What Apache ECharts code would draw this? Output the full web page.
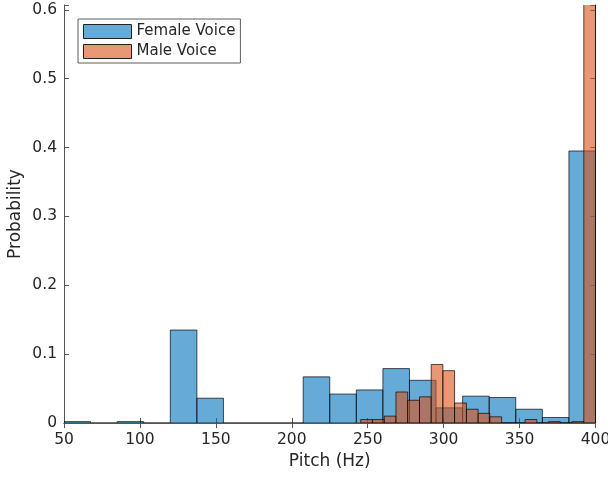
<!DOCTYPE html>
<html>
<head>
<meta charset="utf-8">
<script src="https://cdn.jsdelivr.net/npm/echarts@6/dist/echarts.min.js"></script>
<style>
  html, body { margin: 0; padding: 0; background: #fff; }
  #chart { width: 608px; height: 477px; }
</style>
</head>
<body>
<div id="chart"></div>
<script>
// bin edges (Hz) and probabilities
const femaleEdges = [50, 67.5, 85, 102.5, 120, 137.5, 155, 172.5, 190, 207.5, 225,
  242.5, 260, 277.5, 295, 312.5, 330, 347.5, 365, 382.5, 400];
const femaleProb = [0.002, 0, 0.002, 0, 0.135, 0.036, 0, 0, 0, 0.067,
  0.042, 0.048, 0.079, 0.062, 0.022, 0.039, 0.037, 0.020, 0.008, 0.395];

const maleEdges = [245.4, 253.1, 260.9, 268.6, 276.3, 284.1, 291.8, 299.5, 307.2, 315.0,
  322.7, 330.4, 338.2, 345.9, 353.6, 361.4, 369.1, 376.8, 384.5, 392.3, 400];
const maleProb = [0.005, 0.005, 0.010, 0.045, 0.033, 0.038, 0.085, 0.076, 0.029, 0.020,
  0.014, 0.009, 0, 0, 0.005, 0, 0.002, 0, 0.002, 0.62];

const seriesNames = ['Female Voice', 'Male Voice'];

const FONT = 'DejaVu Sans';
const TEXT = '#262626';
const AXIS = '#555';

const toBins = (edges, probs) => probs.map((p, i) => [edges[i], edges[i + 1], p]);

const chart = echarts.init(document.getElementById('chart'));

function renderBin(params, api) {
  const p0 = api.coord([api.value(0), 0]);
  const p1 = api.coord([api.value(1), api.value(2)]);
  return {
    type: 'rect',
    shape: { x: p0[0], y: p1[1], width: p1[0] - p0[0], height: p0[1] - p1[1] },
    style: api.style(),
  };
}

const tickLabel = (v) => {
  const r = Math.round(v * 10);
  return Math.abs(v * 10 - r) < 1e-6 ? String(r / 10) : '';
};

const option = {
  animation: false,
  textStyle: { fontFamily: FONT, color: TEXT },
  grid: { left: 64, right: 12.5, top: 5, bottom: 54, outerBoundsMode: 'none', containLabel: false },
  legend: {
    orient: 'vertical',
    left: 78,
    top: 19,
    padding: [5, 5, 4, 5],
    itemWidth: 48,
    itemHeight: 14,
    itemGap: 5,
    itemTextGap: 4,
    borderColor: '#333',
    borderWidth: 0.8,
    backgroundColor: '#fff',
    textStyle: { fontFamily: FONT, fontSize: 15, color: TEXT },
    data: [
      { name: seriesNames[0], icon: 'rect', itemStyle: { color: '#66aad7', borderColor: '#222', borderWidth: 1 } },
      { name: seriesNames[1], icon: 'rect', itemStyle: { color: '#e89875', borderColor: '#222', borderWidth: 1 } },
    ],
  },
  xAxis: [
    {
      type: 'value',
      min: 50,
      max: 400,
      interval: 50,
      name: 'Pitch (Hz)',
      nameLocation: 'middle',
      nameGap: 30,
      nameMoveOverlap: false,
      nameTextStyle: { fontFamily: FONT, fontSize: 17, color: TEXT },
      axisLine: { show: true, lineStyle: { color: AXIS, width: 1 } },
      axisTick: { inside: true, length: 5, lineStyle: { color: AXIS } },
      axisLabel: { fontFamily: FONT, fontSize: 15.5, color: TEXT, margin: 9 },
      splitLine: { show: false },
    },
    {
      type: 'value',
      position: 'top',
      min: 50,
      max: 400,
      interval: 50,
      axisLine: { show: true, lineStyle: { color: AXIS, width: 1 } },
      axisTick: { inside: true, length: 5, lineStyle: { color: AXIS } },
      axisLabel: { show: false },
      splitLine: { show: false },
    },
  ],
  yAxis: [
    {
      type: 'value',
      min: 0,
      max: 0.607,
      interval: 0.1,
      name: 'Probability',
      nameLocation: 'middle',
      nameGap: 40,
      nameMoveOverlap: false,
      nameTextStyle: { fontFamily: FONT, fontSize: 17, color: TEXT },
      axisLine: { show: true, lineStyle: { color: AXIS, width: 1 } },
      axisTick: { inside: true, length: 5, lineStyle: { color: AXIS } },
      axisLabel: { fontFamily: FONT, fontSize: 15.5, color: TEXT, margin: 7, formatter: tickLabel },
      splitLine: { show: false },
    },
    {
      type: 'value',
      position: 'right',
      min: 0,
      max: 0.607,
      interval: 0.1,
      axisLine: { show: true, lineStyle: { color: AXIS, width: 1 } },
      axisTick: { inside: true, length: 5, lineStyle: { color: AXIS } },
      axisLabel: { show: false },
      splitLine: { show: false },
    },
  ],
  series: [
    {
      name: seriesNames[0],
      type: 'custom',
      renderItem: renderBin,
      clip: true,
      encode: { x: [0, 1], y: 2 },
      itemStyle: { color: 'rgba(0,114,189,0.6)', borderColor: 'rgba(0,0,0,0.85)', borderWidth: 0.8 },
      data: toBins(femaleEdges, femaleProb),
    },
    {
      name: seriesNames[1],
      type: 'custom',
      renderItem: renderBin,
      clip: true,
      encode: { x: [0, 1], y: 2 },
      itemStyle: { color: 'rgba(217,83,25,0.6)', borderColor: 'rgba(0,0,0,0.85)', borderWidth: 0.8 },
      data: toBins(maleEdges, maleProb),
    },
  ],
};

chart.setOption(option);
</script>
</body>
</html>
